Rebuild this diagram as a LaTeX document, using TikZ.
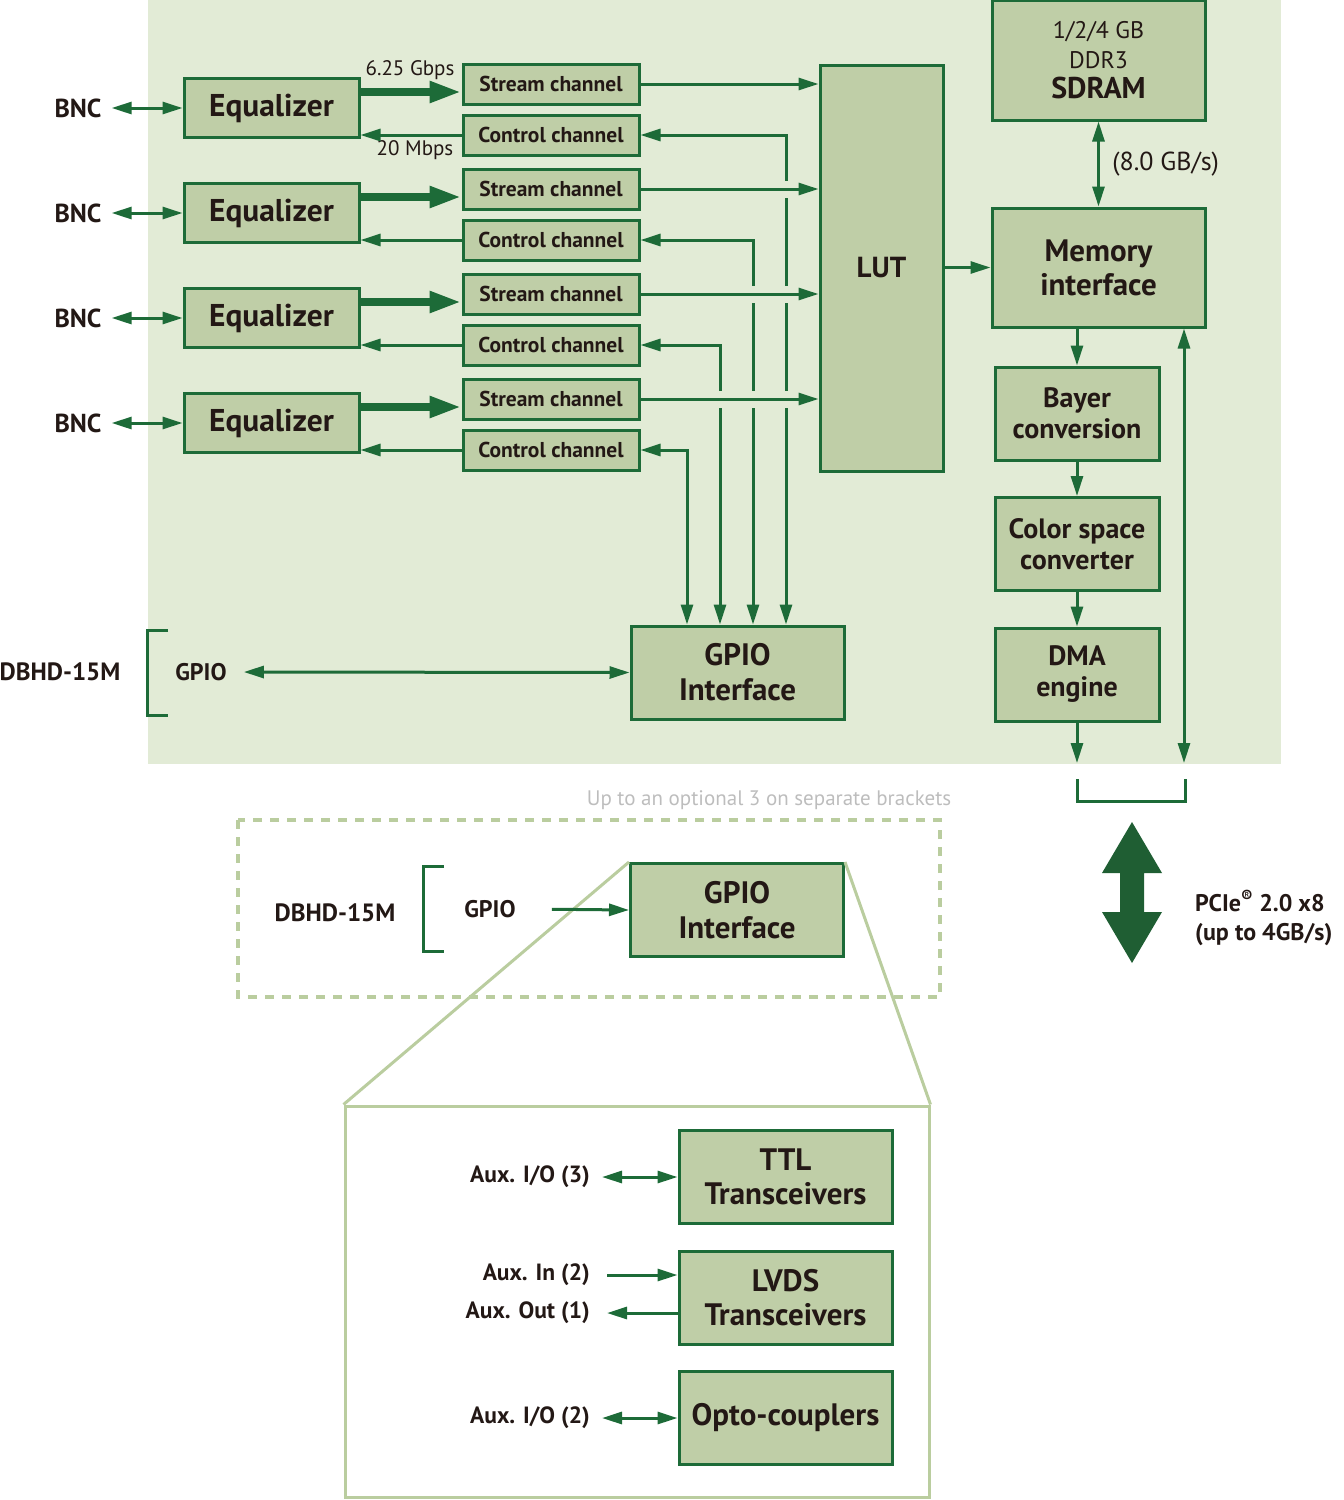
\documentclass[tikz,border=0pt]{standalone}
\usepackage{fontspec}
\setmainfont{PT Sans}
\usetikzlibrary{arrows.meta}
\definecolor{bggreen}{HTML}{E2EBD6}
\definecolor{boxgreen}{HTML}{BFCEA7}
\definecolor{dkgreen}{HTML}{1D6B38}
\definecolor{pciegreen}{HTML}{1F5E33}
\definecolor{ltgreen}{HTML}{BACD9F}
\definecolor{ink}{HTML}{231815}
\definecolor{note}{HTML}{BDBDBD}
\newcommand{\fsz}[2]{\fontsize{#1}{#2}\selectfont}
\begin{document}
\begin{tikzpicture}[x=1pt,y=-1pt,
  blk/.style={draw=dkgreen,line width=3pt,fill=boxgreen,text=ink,align=center,inner sep=0pt},
  chan/.style={blk,minimum width=176pt,minimum height=40pt,font=\fsz{21.5}{24}\bfseries},
  big/.style={blk,minimum width=213pt,minimum height=93pt,font=\fsz{31}{35}\bfseries},
  col/.style={blk,minimum width=164pt,minimum height=93pt,font=\fsz{28}{31}\bfseries},
  lbl/.style={text=ink,inner sep=10pt,font=\fsz{25}{28}\bfseries},
  aux/.style={lbl,anchor=east,font=\fsz{23.5}{26}\bfseries},
  arr/.style={dkgreen,line width=3pt,-{Triangle[length=20pt,width=12pt]}},
  dbl/.style={dkgreen,line width=3pt,{Triangle[length=20pt,width=12pt]}-{Triangle[length=20pt,width=12pt]}},
  fat/.style={dkgreen,line width=8pt,-{Triangle[length=32pt,width=20pt]}},
  gap/.style={bggreen,line width=17pt},
  brk/.style={dkgreen,line width=3pt},
  dsh/.style={ltgreen,line width=4pt,dash pattern=on 9pt off 8pt},
  zoomln/.style={ltgreen,line width=3pt}]
\useasboundingbox (0,0) rectangle (1344,1500);
\fill[bggreen] (148,0) rectangle (1281,764);

% four input lanes
\foreach \i in {1,...,4} {
  \pgfmathsetmacro{\yy}{108+105*(\i-1)}
  \pgfmathsetmacro{\xv}{786-33*(\i-1)}
  \node[lbl,font=\fsz{26}{28}\bfseries] (bnc\i) at (78,\yy) {BNC};
  \node[blk,minimum width=175pt,minimum height=59pt,font=\fsz{31.5}{36}\bfseries] (eq\i) at (271.5,\yy) {Equalizer};
  \node[chan] (st\i) at (551,\yy-24) {Stream channel};
  \node[chan] (ct\i) at (551,\yy+27) {Control channel};
  \coordinate (v\i) at (\xv,\yy);
}
\node[text=ink,font=\fsz{21}{23}] (gbps) at (410,70) {6.25 Gbps};
\node[text=ink,font=\fsz{21}{23}] (mbps) at (415,150) {20 Mbps};

\node[blk,minimum width=123pt,minimum height=406pt,font=\fsz{29}{34}\bfseries] (lut) at (881.5,268) {LUT};
\node[big] (gpio) at (737.5,672.5) {GPIO\\Interface};

\foreach \i in {1,...,4} {
  \draw[dbl] (bnc\i.east) -- (eq\i.west);
  \coordinate (fat\i) at ([yshift=16pt]eq\i.east);
  \draw[fat] (fat\i) -- (fat\i -| st\i.west);
  \draw[arr] (ct\i.west) -- (ct\i.west -| eq\i.east);
  \draw[dbl] (ct\i.east) -| (v\i |- gpio.north);
  \path (st\i.east -| lut.west) coordinate (in\i);
}
\foreach \i in {2,3,4}
  \draw[gap] ([xshift=20pt]st\i.east) -- ([xshift=-22pt]in\i);
\foreach \i in {1,...,4}
  \draw[arr] (st\i.east) -- (in\i);

% GPIO connector
\node[lbl] (dbhd) at (60,672) {DBHD-15M};
\node[lbl,font=\fsz{24}{28}\bfseries] (gpiol) at (201,672) {GPIO};
\draw[brk] (168,630) -- (147,630) -- (147,715) -- (168,715);
\draw[dbl,shorten <=7pt] (gpiol.east) -- (gpio.west);

% memory and output path
\node[blk,minimum width=213pt,minimum height=120pt,font=\fsz{24}{30}] (sdram) at (1098.5,60)
  {1/2/4 GB\\DDR3\\{\fsz{30}{31}\bfseries SDRAM}};
\node[blk,minimum width=213pt,minimum height=119pt,font=\fsz{31}{34}\bfseries] (mem) at (1098.5,267.5) {Memory\\interface};
\node[col] (bayer) at (1077,413.5) {Bayer\\conversion};
\node[col] (csc) at (1077,544) {Color space\\converter};
\node[col] (dma) at (1077,674.5) {DMA\\engine};
\coordinate (pl) at (1077,763);
\coordinate (pr) at (1184,763);

\draw[dbl] (sdram) -- (mem) node[midway,right=9pt,text=ink,font=\fsz{26}{28}] (bw) {(8.0 GB/s)};
\draw[arr] (mem.west -| lut.east) -- (mem.west);
\draw[arr] (bayer.north |- mem.south) -- (bayer.north);
\draw[arr] (bayer) -- (csc);
\draw[arr] (csc) -- (dma);
\draw[arr] (dma) -- (pl);
\draw[dbl] (pr) -- (pr |- mem.south);
\draw[brk] (1077,779) -- (1077,801) -- (1185,801) -- (1185,779);

\fill[pciegreen] (1132,822) -- (1162,873) -- (1144,873) -- (1144,912) -- (1162,912) -- (1132,963)
  -- (1102,912) -- (1120,912) -- (1120,873) -- (1102,873) -- cycle;
\node[lbl,anchor=west,align=left,font=\fsz{24}{29}\bfseries] (pcie) at (1185,918)
  {PCIe\textsuperscript{\textregistered} 2.0 x8\\(up to 4GB/s)};

% optional brackets
\node[text=note,font=\fsz{21}{23}] (opt) at (769,800) {Up to an optional 3 on separate brackets};
\draw[dsh] (238,820) rectangle (940,997);
\node[draw=ltgreen,line width=3pt,minimum width=584pt,minimum height=391pt,inner sep=0pt] (panel) at (637,1301.5) {};
\node[big] (gpio2) at (737,910) {GPIO\\Interface};
\draw[zoomln] (gpio2.north west) -- (panel.north west);
\draw[zoomln] (gpio2.north east) -- (panel.north east);
\node[lbl] (dbhd2) at (335,913) {DBHD-15M};
\node[lbl,font=\fsz{24}{28}\bfseries] (gpiol2) at (490,909) {GPIO};
\draw[brk] (444,866) -- (423,866) -- (423,951) -- (444,951);
\draw[arr,shorten <=26pt] (gpiol2.east) -- (gpio2.west);

% auxiliary I/O
\node[big,font=\fsz{31}{34}\bfseries] (ttl) at (785.5,1176.5) {TTL\\Transceivers};
\node[big,font=\fsz{31}{34}\bfseries] (lvds) at (785.5,1297.5) {LVDS\\Transceivers};
\node[big,font=\fsz{31}{34}\bfseries] (opto) at (785.5,1418) {Opto-couplers};
\node[aux] (auxa) at (600,1177) {Aux. I/O (3)};
\node[aux] (auxin) at (600,1275) {Aux. In (2)};
\node[aux] (auxout) at (600,1313) {Aux. Out (1)};
\node[aux] (auxb) at (600,1418) {Aux. I/O (2)};
\draw[dbl,shorten <=2pt] (auxa.east) -- (auxa.east -| ttl.west);
\draw[arr,shorten <=7pt] (auxin.east) -- (auxin.east -| lvds.west);
\draw[arr,shorten >=7pt] (auxout.east -| lvds.west) -- (auxout.east);
\draw[dbl,shorten <=2pt] (auxb.east) -- (auxb.east -| opto.west);
\end{tikzpicture}
\end{document}
